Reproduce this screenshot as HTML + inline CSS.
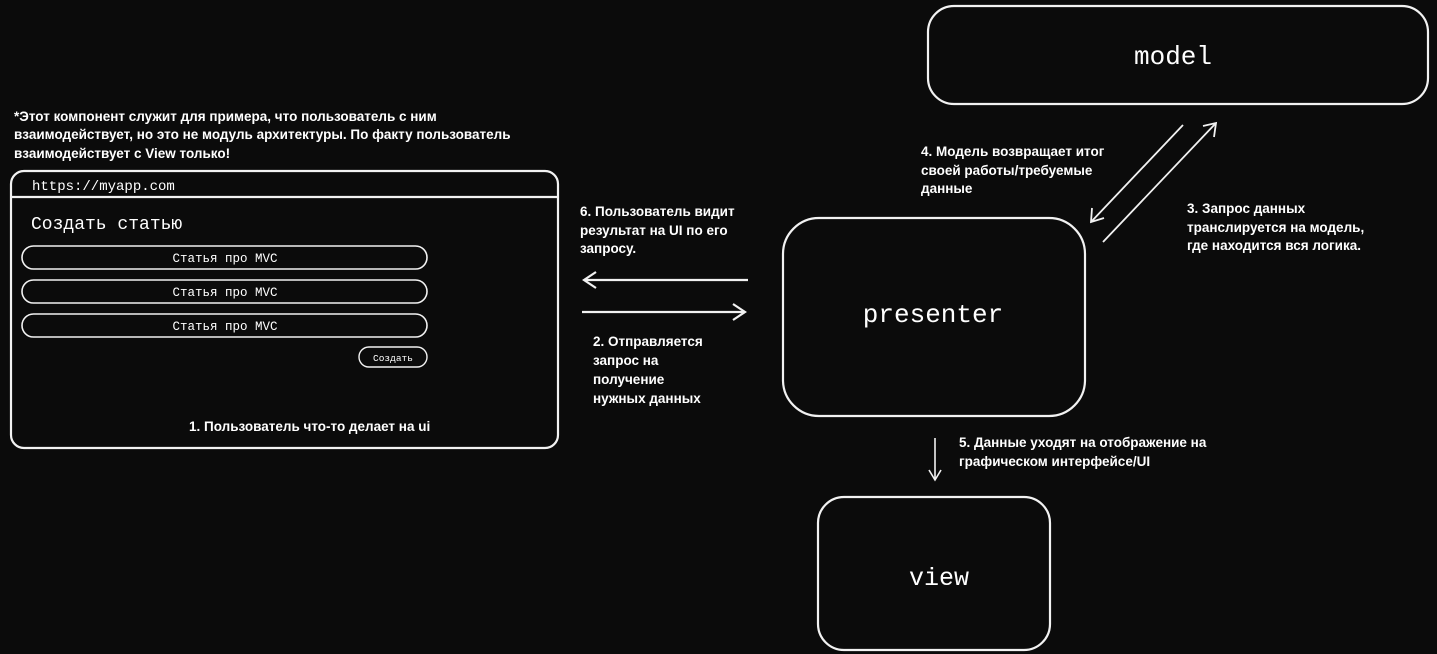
<!DOCTYPE html>
<html><head><meta charset="utf-8"><style>
html,body{margin:0;padding:0;background:#0b0b0b;}
svg{display:block}
.lb{font-family:"Liberation Sans","Noto Sans CJK SC",sans-serif;font-weight:bold;font-size:13.5px;fill:#fff}
.mono{font-family:"Liberation Mono","DejaVu Sans Mono",monospace;fill:#fff}
</style></head><body>
<svg width="1437" height="654" viewBox="0 0 1437 654" xmlns="http://www.w3.org/2000/svg">
<rect width="1437" height="654" fill="#0b0b0b"/>
<g fill="none" stroke="#f2f2f2" stroke-width="2.2">
<rect x="928" y="6" width="500" height="98" rx="26"/>
<rect x="783" y="218" width="302" height="198" rx="36"/>
<rect x="818" y="497" width="232" height="153" rx="26"/>
<rect x="11" y="171" width="547" height="277" rx="13"/>
<line x1="11" y1="197" x2="558" y2="197"/>
<rect x="22" y="246" width="405" height="23" rx="11.5" stroke-width="1.6"/>
<rect x="22" y="280" width="405" height="23" rx="11.5" stroke-width="1.6"/>
<rect x="22" y="314" width="405" height="23" rx="11.5" stroke-width="1.6"/>
<rect x="359" y="347" width="68" height="20" rx="10" stroke-width="1.4"/>
<line x1="748" y1="280" x2="584" y2="280"/><polyline points="596,272 584,280 596,288"/>
<line x1="582" y1="312" x2="745" y2="312"/><polyline points="733,304 745,312 733,320"/>
<line x1="1183" y1="125" x2="1091" y2="222" stroke-width="1.8"/><polyline points="1092,208 1091,222 1104,218" stroke-width="1.8"/>
<line x1="1103" y1="242" x2="1216" y2="123" stroke-width="1.8"/><polyline points="1203,126 1216,123 1214,137" stroke-width="1.8"/>
<line x1="935" y1="438" x2="935" y2="480" stroke-width="1.6"/><polyline points="929,470 935,480 941,470" stroke-width="1.6"/>
</g>
<text class="mono" x="1173" y="64" font-size="26" text-anchor="middle">model</text>
<text class="mono" x="933" y="322" font-size="26" text-anchor="middle">presenter</text>
<text class="mono" x="939" y="585" font-size="25" text-anchor="middle">view</text>
<text class="mono" x="32" y="190" font-size="14">https://myapp.com</text>
<text class="mono" x="31" y="229" font-size="18">Создать статью</text>
<text class="mono" x="225" y="262" font-size="12.5" text-anchor="middle">Статья про MVC</text>
<text class="mono" x="225" y="296" font-size="12.5" text-anchor="middle">Статья про MVC</text>
<text class="mono" x="225" y="330" font-size="12.5" text-anchor="middle">Статья про MVC</text>
<text class="mono" x="393" y="361" font-size="9.5" text-anchor="middle">Создать</text>
<text class="lb" x="189" y="431">1. Пользователь что-то делает на ui</text>
<text class="lb" x="14" y="121">*Этот компонент служит для примера, что пользователь с ним</text>
<text class="lb" x="14" y="139">взаимодействует, но это не модуль архитектуры. По факту пользователь</text>
<text class="lb" x="14" y="158">взаимодействует с View только!</text>
<text class="lb" x="580" y="216">6. Пользователь видит</text>
<text class="lb" x="580" y="235">результат на UI по его</text>
<text class="lb" x="580" y="253">запросу.</text>
<text class="lb" x="593" y="346">2. Отправляется</text>
<text class="lb" x="593" y="365">запрос на</text>
<text class="lb" x="593" y="384">получение</text>
<text class="lb" x="593" y="403">нужных данных</text>
<text class="lb" x="921" y="156">4. Модель возвращает итог</text>
<text class="lb" x="921" y="175">своей работы/требуемые</text>
<text class="lb" x="921" y="193">данные</text>
<text class="lb" x="1187" y="213">3. Запрос данных</text>
<text class="lb" x="1187" y="232">транслируется на модель,</text>
<text class="lb" x="1187" y="250">где находится вся логика.</text>
<text class="lb" x="959" y="447">5. Данные уходят на отображение на</text>
<text class="lb" x="959" y="466">графическом интерфейсе/UI</text>
</svg>
</body></html>
